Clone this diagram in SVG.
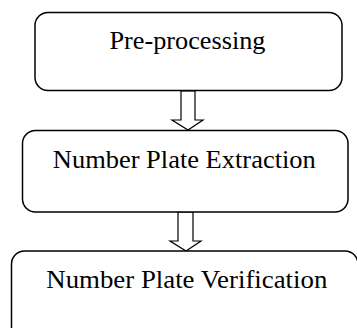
<svg xmlns="http://www.w3.org/2000/svg" width="357" height="328" viewBox="0 0 357 328">
<style>
.box{fill:#fff;stroke:#000;stroke-width:1.5}
.arr{fill:#fff;stroke:#000;stroke-width:1.2;stroke-linejoin:miter}
.lbl{font-family:"Liberation Serif","Times New Roman",serif;font-size:25.5px;fill:#000;text-anchor:middle}
</style>
<rect width="357" height="328" fill="#fff"/>
<g id="connectors">
<path class="arr" d="M181,91 L195,91 L195,120 L203,120 L188,130 L172,120 L181,120 Z"/>
<path class="arr" d="M178,212 L193,212 L193,241 L201,241 L186,251 L170,241 L178,241 Z"/>
</g>
<g id="node-preprocessing">
<rect class="box" x="35" y="12.5" width="307" height="78" rx="13"/>
<text class="lbl" x="187.5" y="49.3" textLength="156" lengthAdjust="spacingAndGlyphs">Pre-processing</text>
</g>
<g id="node-extraction">
<rect class="box" x="22.5" y="130.5" width="325.5" height="81.5" rx="13"/>
<text class="lbl" x="184.3" y="168.3" textLength="263" lengthAdjust="spacingAndGlyphs">Number Plate Extraction</text>
</g>
<g id="node-verification">
<rect class="box" x="11.5" y="251" width="346.5" height="90" rx="13"/>
<text class="lbl" x="186.8" y="288.3" textLength="281" lengthAdjust="spacingAndGlyphs">Number Plate Verification</text>
</g>
</svg>
